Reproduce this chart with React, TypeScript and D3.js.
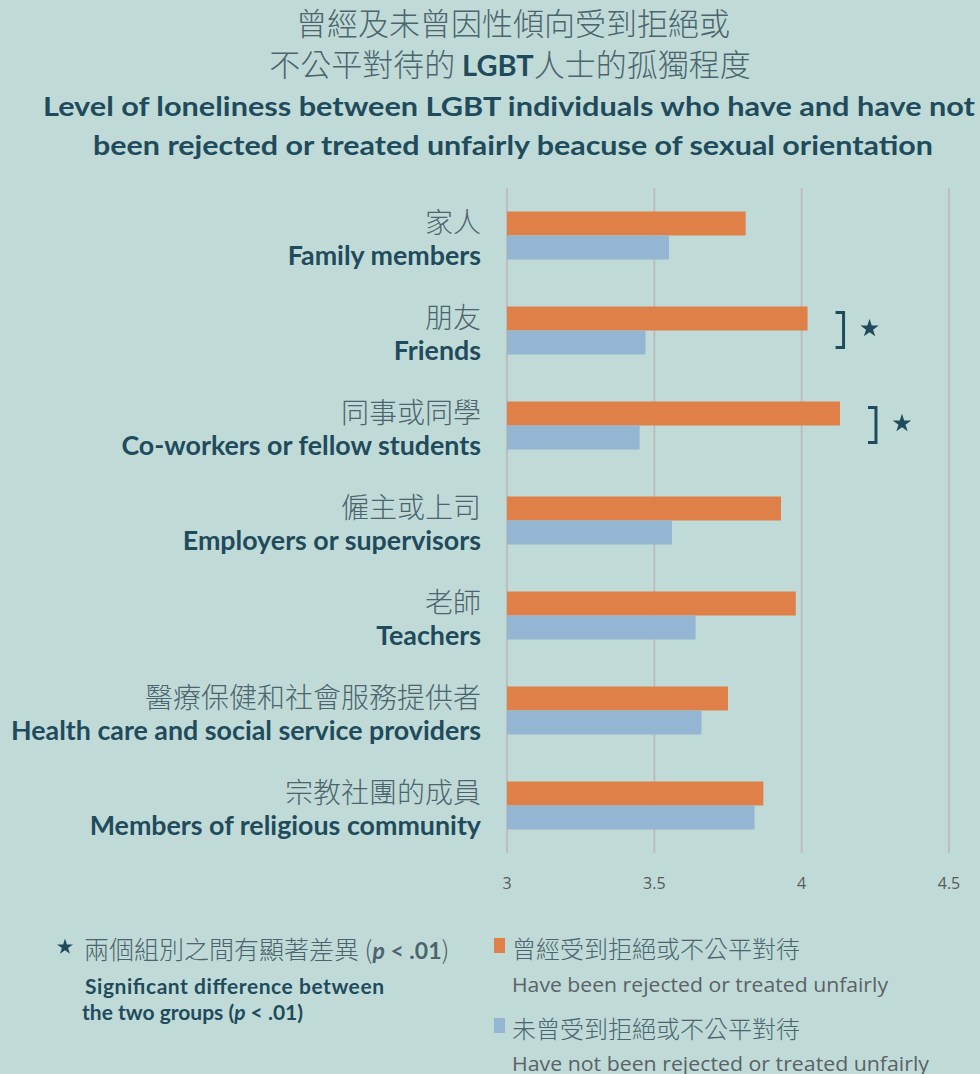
import React from "react";
import * as d3 from "d3";

const categoriesZh = ["家人", "朋友", "同事或同學", "僱主或上司", "老師", "醫療保健和社會服務提供者", "宗教社團的成員"];
const categoriesEn = [
  "Family members",
  "Friends",
  "Co-workers or fellow students",
  "Employers or supervisors",
  "Teachers",
  "Health care and social service providers",
  "Members of religious community",
];
const rejected = [3.81, 4.02, 4.13, 3.93, 3.98, 3.75, 3.87];
const notRejected = [3.55, 3.47, 3.45, 3.56, 3.64, 3.66, 3.84];
const significant = [false, true, true, false, false, false, false];
const xTicks = [3, 3.5, 4, 4.5];
const xTickLabels = ["3", "3.5", "4", "4.5"];

const W = 980;
const H = 1074;
const BG = "#c0dbd7";
const ORANGE = "#de8048";
const BLUE = "#94b6d2";
const DARK = "#1f4b5c";
const GRAY_ZH = "#4c656d";
const GRID = "#bdbdbd";
const SANS = "Lato, 'Noto Sans', sans-serif";
const CJK = "'Noto Sans CJK TC', 'Noto Sans CJK SC', sans-serif";
const OPEN = "'Open Sans', sans-serif";

const star = d3.symbol().type(d3.symbolStar).size(105)();
const starSmall = d3.symbol().type(d3.symbolStar).size(80)();

export default function App() {
  const x = d3.scaleLinear().domain([3, 4.5]).range([507, 949]);
  const y = d3.scaleBand<number>().domain(d3.range(categoriesZh.length)).range([188, 853]);
  const step = y.step();
  const barH = 24;

  return (
    <div style={{ position: "absolute", left: 0, top: 0, width: W, height: H, overflow: "hidden" }}>
      <svg width={W} height={H} style={{ display: "block" }}>
        <rect x={0} y={0} width={W} height={H} fill={BG} />
        {/* Title */}
        <text x={513} y={35} textAnchor="middle" fontFamily={CJK} fontSize={31} fill={GRAY_ZH} fontWeight={300}>
          曾經及未曾因性傾向受到拒絕或
        </text>
        <text x={510} y={76} textAnchor="middle" fontFamily={CJK} fontSize={31} fill={GRAY_ZH} fontWeight={300}>
          不公平對待的 <tspan fontFamily={SANS} fontWeight={700} fill={DARK} fontSize={29}>LGBT</tspan>人士的孤獨程度
        </text>
        <text x={509} y={116} textAnchor="middle" fontFamily={SANS} fontWeight={700} fontSize={27.5} fill={DARK} textLength={932} lengthAdjust="spacingAndGlyphs">
          Level of loneliness between LGBT individuals who have and have not
        </text>
        <text x={513} y={155} textAnchor="middle" fontFamily={SANS} fontWeight={700} fontSize={27.5} fill={DARK} textLength={840} lengthAdjust="spacingAndGlyphs">
          been rejected or treated unfairly beacuse of sexual orientation
        </text>

        {/* Gridlines and ticks */}
        {xTicks.map((t, i) => (
          <g key={"g" + i}>
            <line x1={x(t)} x2={x(t)} y1={188} y2={853} stroke={GRID} strokeWidth={2} />
            <text x={x(t)} y={889} textAnchor="middle" fontFamily={OPEN} fontSize={16} fill="#5a5a5a">
              {xTickLabels[i]}
            </text>
          </g>
        ))}

        {/* Bars */}
        {categoriesZh.map((c, i) => {
          const y0 = (y(i) as number) + (step - 2 * barH) / 2;
          return (
            <g key={"b" + i}>
              <rect x={x(3)} y={y0} width={x(rejected[i]) - x(3)} height={barH} fill={ORANGE} />
              <rect x={x(3)} y={y0 + barH} width={x(notRejected[i]) - x(3)} height={barH} fill={BLUE} />
            </g>
          );
        })}

        {/* Significance brackets */}
        {categoriesZh.map((c, i) => {
          if (!significant[i]) return null;
          const y0 = (y(i) as number) + (step - 2 * barH) / 2;
          const bx = x(rejected[i]) + 36;
          return (
            <g key={"s" + i}>
              <path
                d={`M${bx - 8},${y0 + 6} H${bx} V${y0 + 41} H${bx - 8}`}
                fill="none"
                stroke={DARK}
                strokeWidth={3}
              />
              <path d={star} transform={`translate(${bx + 26},${y0 + 22})`} fill={DARK} />
            </g>
          );
        })}

        {/* Category labels */}
        {categoriesZh.map((c, i) => {
          const cy = (y(i) as number) + step / 2;
          return (
            <g key={"l" + i}>
              <text x={481} y={cy - 3} textAnchor="end" fontFamily={CJK} fontSize={28} fill={GRAY_ZH} fontWeight={300}>
                {c}
              </text>
              <text x={481} y={cy + 29} textAnchor="end" fontFamily={SANS} fontWeight={700} fontSize={26.8} fill={DARK}>
                {categoriesEn[i]}
              </text>
            </g>
          );
        })}

        {/* Significance note */}
        <path d={starSmall} transform="translate(65,947)" fill={DARK} />
        <text x={84} y={959} fontFamily={CJK} fontSize={25} fill={GRAY_ZH} fontWeight={300}>
          兩個組別之間有顯著差異 (<tspan fontFamily={SANS} fontStyle="italic" fontWeight={700} fontSize={23}>p</tspan>
          <tspan fontFamily={SANS} fontWeight={700} fontSize={23}> &lt; .01</tspan>)
        </text>
        <text x={85} y={994} fontFamily={SANS} fontWeight={700} fontSize={21} fill={DARK} textLength={299} lengthAdjust="spacing">
          Significant difference between
        </text>
        <text x={82} y={1020} fontFamily={SANS} fontWeight={700} fontSize={21} fill={DARK}>
          the two groups (<tspan fontStyle="italic">p</tspan> &lt; .01)
        </text>

        {/* Legend */}
        <rect x={494} y={938} width={11} height={15} fill={ORANGE} />
        <text x={512} y={958} fontFamily={CJK} fontSize={24} fill={GRAY_ZH} fontWeight={300}>
          曾經受到拒絕或不公平對待
        </text>
        <text x={512} y={992} fontFamily={OPEN} fontSize={20.5} fill="#5a6266" textLength={376} lengthAdjust="spacingAndGlyphs">
          Have been rejected or treated unfairly
        </text>
        <rect x={494} y={1018} width={11} height={15} fill={BLUE} />
        <text x={512} y={1038} fontFamily={CJK} fontSize={24} fill={GRAY_ZH} fontWeight={300}>
          未曾受到拒絕或不公平對待
        </text>
        <text x={512} y={1071} fontFamily={OPEN} fontSize={20.5} fill="#5a6266" textLength={417} lengthAdjust="spacingAndGlyphs">
          Have not been rejected or treated unfairly
        </text>
      </svg>
    </div>
  );
}
